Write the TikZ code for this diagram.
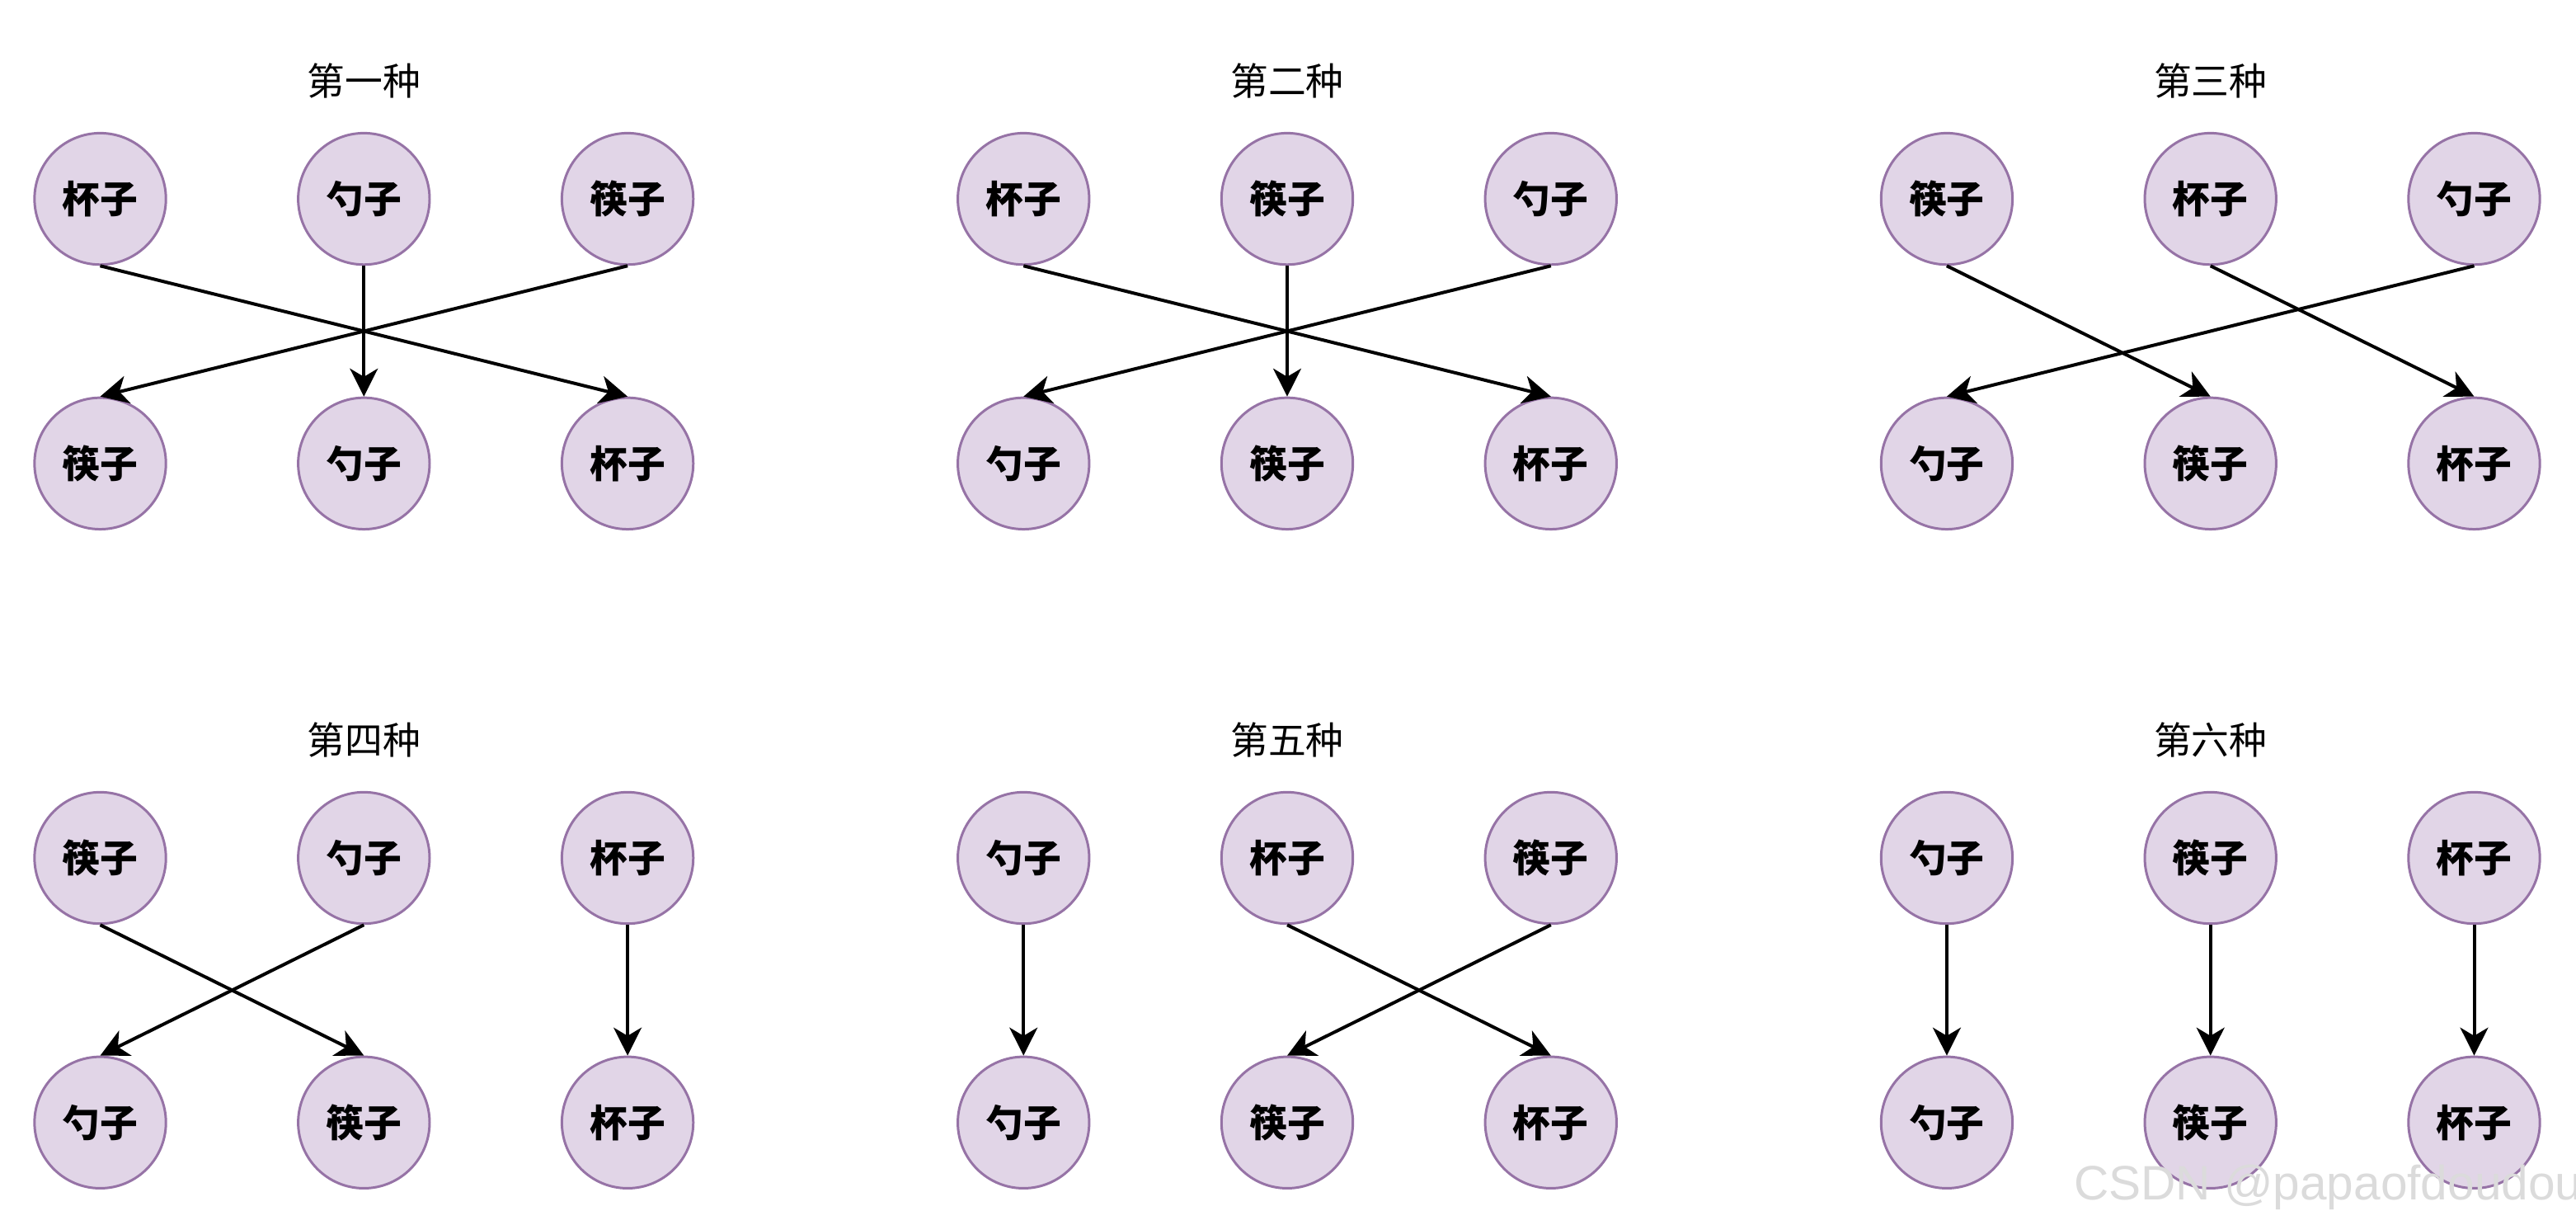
\documentclass[tikz,border=0pt]{standalone}
\usepackage{fontspec}
\setmainfont{Noto Sans CJK SC}
\newfontfamily\wmfont{Liberation Sans}
\usetikzlibrary{arrows.meta}
\definecolor{plumfill}{HTML}{E1D5E7}
\definecolor{plumline}{HTML}{9673A6}

\begin{document}
\begin{tikzpicture}[
  x=0.5pt, y=-0.5pt,
  item/.style={circle, draw=plumline, fill=plumfill, line width=0.75pt, minimum size=40pt, inner sep=0pt, font=\fontsize{11.5}{13}\selectfont\bfseries},
  ttl/.style={font=\fontsize{11.5}{13}\selectfont},
  move/.style={draw, line width=1pt, -{Stealth[length=8.5pt, width=8.5pt, inset=2.5pt]}},
  wmark/.style={font=\fontsize{14.7}{16}\wmfont, text=gray!28, anchor=base west, inner sep=0pt},
]
\useasboundingbox (0,0) rectangle (1568,745);
% one group per ordering: top row, bottom row, arrows (top column/bottom column)
\foreach \g/\gx/\gy/\name/\ta/\tb/\tc/\ba/\bb/\bc/\arr in {
    1/61/121/第一种/杯子/勺子/筷子/筷子/勺子/杯子/{1/3,2/2,3/1},
    2/623/121/第二种/杯子/筷子/勺子/勺子/筷子/杯子/{1/3,2/2,3/1},
    3/1185/121/第三种/筷子/杯子/勺子/勺子/筷子/杯子/{1/2,2/3,3/1},
    4/61/522/第四种/筷子/勺子/杯子/勺子/筷子/杯子/{1/2,2/1,3/3},
    5/623/522/第五种/勺子/杯子/筷子/勺子/筷子/杯子/{1/1,2/3,3/2},
    6/1185/522/第六种/勺子/筷子/杯子/勺子/筷子/杯子/{1/1,2/2,3/3}} {
  \node[ttl] (title\g) at (\gx+160.5,\gy-72) {\name};
  \node[item] (t\g-1) at (\gx,\gy) {\ta};
  \node[item] (t\g-2) at (\gx+160.5,\gy) {\tb};
  \node[item] (t\g-3) at (\gx+321,\gy) {\tc};
  \node[item] (b\g-1) at (\gx,\gy+161) {\ba};
  \node[item] (b\g-2) at (\gx+160.5,\gy+161) {\bb};
  \node[item] (b\g-3) at (\gx+321,\gy+161) {\bc};
  \foreach \s/\e in \arr
    \draw[move] (t\g-\s.south) -- (b\g-\e.north);
}
% watermark
\node[wmark] (wm) at (1262,730) {CSDN @papaofdoudou};
\end{tikzpicture}
\end{document}
